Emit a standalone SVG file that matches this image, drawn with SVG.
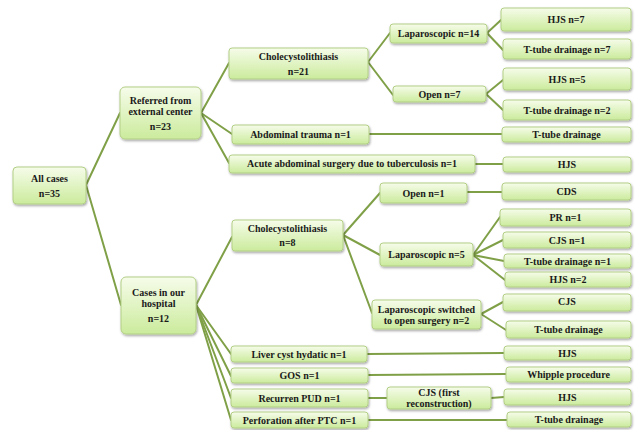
<svg xmlns="http://www.w3.org/2000/svg" width="635" height="430" viewBox="0 0 635 430">
<defs>
<linearGradient id="g" x1="0" y1="0" x2="0" y2="1">
<stop offset="0" stop-color="#f6fcea"/>
<stop offset="1" stop-color="#cbeb9c"/>
</linearGradient>
<filter id="sh" x="-10%" y="-20%" width="120%" height="150%">
<feDropShadow dx="0.8" dy="1.5" stdDeviation="0.9" flood-color="#000" flood-opacity="0.35"/>
</filter>
<style>
.n rect{fill:url(#g);stroke:#b3cf86;stroke-width:1;filter:url(#sh)}
.n text{font-family:"Liberation Serif","Times New Roman",serif;font-weight:bold;font-size:10px;fill:#1a1a1a;text-anchor:middle}
#connectors line{stroke:#80a048;stroke-width:2;stroke-linecap:round}
</style>
</defs>
<rect width="635" height="430" fill="#fff"/>
<g id="connectors">
<line x1="86" y1="185" x2="120" y2="113"/>
<line x1="86" y1="185" x2="121" y2="305"/>
<line x1="201" y1="113" x2="229" y2="63"/>
<line x1="201" y1="113" x2="232" y2="134"/>
<line x1="201" y1="113" x2="229" y2="163"/>
<line x1="368" y1="62" x2="390" y2="33"/>
<line x1="368" y1="62" x2="393" y2="95"/>
<line x1="487" y1="33" x2="501" y2="20"/>
<line x1="487" y1="33" x2="503" y2="50"/>
<line x1="486" y1="94" x2="503" y2="80"/>
<line x1="486" y1="94" x2="503" y2="110"/>
<line x1="369" y1="134" x2="502" y2="134"/>
<line x1="475" y1="164" x2="503" y2="164"/>
<line x1="196" y1="305" x2="232" y2="237"/>
<line x1="196" y1="305" x2="231" y2="354"/>
<line x1="196" y1="305" x2="231" y2="376"/>
<line x1="196" y1="305" x2="231" y2="398"/>
<line x1="196" y1="305" x2="231" y2="420"/>
<line x1="343" y1="235" x2="380" y2="193"/>
<line x1="343" y1="235" x2="380" y2="255"/>
<line x1="343" y1="235" x2="372" y2="313"/>
<line x1="467" y1="192" x2="502" y2="192"/>
<line x1="473" y1="255" x2="500" y2="217"/>
<line x1="473" y1="255" x2="503" y2="240"/>
<line x1="473" y1="255" x2="504" y2="261"/>
<line x1="473" y1="255" x2="505" y2="280"/>
<line x1="481" y1="314" x2="503" y2="302"/>
<line x1="481" y1="314" x2="506" y2="330"/>
<line x1="367" y1="354" x2="504" y2="353"/>
<line x1="368" y1="375" x2="506" y2="374"/>
<line x1="368" y1="398" x2="387" y2="398"/>
<line x1="491" y1="398" x2="504" y2="397"/>
<line x1="368" y1="420" x2="507" y2="420"/>
</g>
<g id="all" class="n"><rect x="13" y="167" width="73" height="37" rx="4"/><text x="49.5" y="181.5">All cases</text><text x="49.5" y="196.5">n=35</text></g>
<g id="referred" class="n"><rect x="120" y="87" width="81" height="52" rx="5"/><text x="160.5" y="103.5">Referred from</text><text x="160.5" y="114.5">external center</text><text x="160.5" y="129.5">n=23</text></g>
<g id="chole21" class="n"><rect x="229" y="48" width="139" height="31" rx="3"/><text x="298.5" y="59.5">Cholecystolithiasis</text><text x="298.5" y="74.5">n=21</text></g>
<g id="trauma" class="n"><rect x="232" y="125" width="137" height="19" rx="3"/><text x="300.5" y="137.5">Abdominal trauma n=1</text></g>
<g id="acute" class="n"><rect x="229" y="155" width="246" height="18" rx="3"/><text x="352" y="167">Acute abdominal surgery due to tuberculosis n=1</text></g>
<g id="lap14" class="n"><rect x="390" y="24" width="97" height="19" rx="3"/><text x="438.5" y="36.5">Laparoscopic n=14</text></g>
<g id="open7" class="n"><rect x="393" y="86" width="93" height="16" rx="3"/><text x="439.5" y="97.5">Open n=7</text></g>
<g id="hjs7" class="n"><rect x="501" y="8" width="130" height="23" rx="3"/><text x="566" y="23">HJS n=7</text></g>
<g id="tt7" class="n"><rect x="503" y="39" width="128" height="20" rx="3"/><text x="567" y="53">T-tube drainage n=7</text></g>
<g id="hjs5" class="n"><rect x="503" y="68" width="128" height="22" rx="3"/><text x="567" y="82.5">HJS n=5</text></g>
<g id="tt2" class="n"><rect x="503" y="100" width="128" height="20" rx="3"/><text x="567" y="114">T-tube drainage n=2</text></g>
<g id="tt-trauma" class="n"><rect x="502" y="127" width="129" height="15" rx="3"/><text x="566.5" y="138">T-tube drainage</text></g>
<g id="hjs-acute" class="n"><rect x="503" y="157" width="128" height="15" rx="3"/><text x="567" y="168">HJS</text></g>
<g id="hospital" class="n"><rect x="121" y="277" width="75" height="57" rx="5"/><text x="158.5" y="295.5">Cases in our</text><text x="158.5" y="306.5">hospital</text><text x="158.5" y="321.5">n=12</text></g>
<g id="chole8" class="n"><rect x="232" y="220" width="111" height="31" rx="3"/><text x="287.5" y="231.5">Cholecystolithiasis</text><text x="287.5" y="245.5">n=8</text></g>
<g id="open1" class="n"><rect x="380" y="183" width="87" height="20" rx="3"/><text x="423.5" y="196.5">Open n=1</text></g>
<g id="lap5" class="n"><rect x="380" y="243" width="93" height="23" rx="3"/><text x="426.5" y="258">Laparoscopic n=5</text></g>
<g id="switched" class="n"><rect x="372" y="300" width="109" height="29" rx="3"/><text x="426.5" y="312.5">Laparoscopic switched</text><text x="426.5" y="323.5">to open surgery n=2</text></g>
<g id="cds" class="n"><rect x="502" y="183" width="129" height="17" rx="3"/><text x="566.5" y="195">CDS</text></g>
<g id="pr" class="n"><rect x="500" y="209" width="131" height="17" rx="3"/><text x="565.5" y="221">PR n=1</text></g>
<g id="cjs1" class="n"><rect x="503" y="232" width="128" height="16" rx="3"/><text x="567" y="243.5">CJS n=1</text></g>
<g id="tt1" class="n"><rect x="504" y="254" width="127" height="14" rx="3"/><text x="567.5" y="264.5">T-tube drainage n=1</text></g>
<g id="hjs2" class="n"><rect x="505" y="272" width="126" height="15" rx="3"/><text x="568" y="283">HJS n=2</text></g>
<g id="cjs-sw" class="n"><rect x="503" y="294" width="128" height="17" rx="3"/><text x="567" y="305">CJS</text></g>
<g id="tt-sw" class="n"><rect x="506" y="321" width="125" height="17" rx="3"/><text x="568.5" y="333">T-tube drainage</text></g>
<g id="liver" class="n"><rect x="231" y="346" width="136" height="16" rx="3"/><text x="299" y="357.5">Liver cyst hydatic n=1</text></g>
<g id="gos" class="n"><rect x="231" y="368" width="137" height="15" rx="3"/><text x="299.5" y="379">GOS n=1</text></g>
<g id="pud" class="n"><rect x="231" y="389" width="137" height="18" rx="3"/><text x="299.5" y="401.5">Recurren PUD n=1</text></g>
<g id="ptc" class="n"><rect x="231" y="412" width="137" height="16" rx="3"/><text x="299.5" y="423.5">Perforation after PTC n=1</text></g>
<g id="hjs-liver" class="n"><rect x="504" y="346" width="127" height="14" rx="3"/><text x="567.5" y="356.5">HJS</text></g>
<g id="whipple" class="n"><rect x="506" y="367" width="125" height="15" rx="3"/><text x="568.5" y="378">Whipple procedure</text></g>
<g id="cjs-first" class="n"><rect x="387" y="387" width="104" height="22" rx="3"/><text x="439" y="395.5">CJS (first</text><text x="439" y="406.5">reconstruction)</text></g>
<g id="hjs-pud" class="n"><rect x="504" y="389" width="127" height="16" rx="3"/><text x="567.5" y="400.5">HJS</text></g>
<g id="tt-ptc" class="n"><rect x="507" y="412" width="124" height="15" rx="3"/><text x="569" y="423">T-tube drainage</text></g>
</svg>
